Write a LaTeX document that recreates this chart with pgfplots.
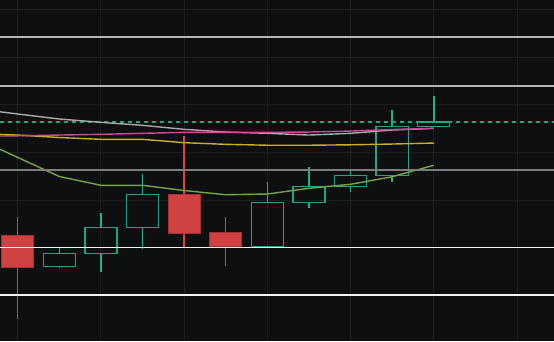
\documentclass[border=0pt]{standalone}
\usepackage{pgfplots}
\pgfplotsset{compat=1.18}
\usepgfplotslibrary{statistics}
\definecolor{bgc}{HTML}{0E0F11}
\definecolor{gridc}{HTML}{1D1E22}
\definecolor{upc}{HTML}{22A383}
\definecolor{upw}{HTML}{26B08C}
\definecolor{dnc}{HTML}{D04142}
\definecolor{dnb}{HTML}{A53334}
\definecolor{dnw}{HTML}{E0423F}
\definecolor{maG}{HTML}{A8A8A8}
\definecolor{maP}{HTML}{D8449E}
\definecolor{maY}{HTML}{C6B022}
\definecolor{maO}{HTML}{74A444}
\definecolor{lvlA}{HTML}{B4B4B4}
\definecolor{lvlB}{HTML}{7C7C7C}
\definecolor{lvlW}{HTML}{F2F2F2}
\pgfplotsset{
  up/.style n args={5}{boxplot prepared={draw direction=y, draw position=#1, lower whisker=#2, lower quartile=#3, median=#3, upper quartile=#4, upper whisker=#5, box extend=0.77, whisker extend=0,
    every whisker/.style={draw=upw, line width=1.5bp, solid},
    every box/.style={draw=upc, fill=none, line width=1.3bp, solid},
    every median/.style={draw=upc, line width=1.3bp}}, draw=upc, mark=none},
  dn/.style n args={5}{boxplot prepared={draw direction=y, draw position=#1, lower whisker=#2, lower quartile=#3, median=#3, upper quartile=#4, upper whisker=#5, box extend=0.77, whisker extend=0,
    every whisker/.style={draw=dnw, line width=1.5bp, solid},
    every box/.style={draw=dnb, fill=dnc, line width=1bp, solid},
    every median/.style={draw=dnb, line width=1bp}}, draw=dnb, mark=none},
}
\begin{document}
\begin{tikzpicture}
\begin{axis}[name=ax,
  width=554bp, height=341bp, scale only axis,
  xmin=-0.425, xmax=12.89, ymin=80.36, ymax=152.0,
  axis background/.style={fill=bgc},
  axis line style={draw=none},
  major tick length=0pt,
  xtick={0,2,...,12}, ytick={90,100,...,150},
  xticklabels={}, yticklabels={},
  grid=major, grid style={color=gridc, line width=0.8bp},
  clip=true,
]
% candles
\addplot[dn={0}{85.04}{95.90}{102.48}{106.47}] coordinates {};
\addplot[up={1}{95.76}{95.97}{98.78}{99.89}] coordinates {};
\addplot[up={2}{94.92}{98.78}{104.24}{107.18}] coordinates {};
\addplot[up={3}{99.75}{104.24}{111.09}{115.38}] coordinates {};
\addplot[dn={4}{100.11}{102.98}{111.18}{123.42}] coordinates {};
\addplot[dn={5}{96.05}{100.11}{103.11}{106.34}] coordinates {};
\addplot[up={6}{100.25}{100.25}{109.41}{113.87}] coordinates {};
\addplot[up={7}{108.24}{109.50}{112.86}{116.85}] coordinates {};
\addplot[up={8}{111.60}{112.77}{115.08}{116.28}] coordinates {};
\addplot[up={9}{113.82}{115.08}{125.38}{128.89}] coordinates {};
\addplot[up={10}{125.38}{125.38}{126.37}{131.89}] coordinates {};
% current price
\addplot[upc, line width=1.3bp, dash pattern=on 3.5bp off 4.5bp] coordinates {(-1,126.37) (13,126.37)};
% moving averages
\addplot[maO, line width=1.4bp] coordinates {(-1,122.94) (0,118.93) (1,114.92) (2,113.07) (3,113.07) (4,111.97) (5,111.09) (6,111.24) (7,112.44) (8,113.28) (9,114.87) (10,117.27)};
\addplot[maY, line width=1.4bp] coordinates {(-1,123.95) (0,123.63) (1,123.11) (2,122.73) (3,122.73) (4,122.02) (5,121.68) (6,121.49) (7,121.49) (8,121.58) (9,121.74) (10,121.95)};
\addplot[maG, line width=1.4bp] coordinates {(-1,129.15) (0,128.05) (1,127.00) (2,126.30) (3,125.67) (4,124.83) (5,124.26) (6,123.99) (7,123.63) (8,123.99) (9,124.68) (10,125.04)};
\addplot[maP, line width=1.4bp] coordinates {(-1,123.37) (0,123.47) (1,123.63) (2,123.78) (3,123.99) (4,124.20) (5,124.20) (6,124.20) (7,124.26) (8,124.47) (9,124.79) (10,125.04)};
% levels
\addplot[lvlA, line width=1.5bp] coordinates {(-1,144.22) (13,144.22)};
\addplot[lvlA, line width=1.5bp] coordinates {(-1,133.93) (13,133.93)};
\addplot[lvlB, line width=2bp] coordinates {(-1,116.28) (13,116.28)};
\addplot[lvlW, line width=1.5bp] coordinates {(-1,100.02) (13,100.02)};
\addplot[lvlW, line width=1.5bp] coordinates {(-1,89.98) (13,89.98)};
\end{axis}
\pgfresetboundingbox
\useasboundingbox (ax.south west) rectangle (ax.north east);
\end{tikzpicture}
\end{document}
